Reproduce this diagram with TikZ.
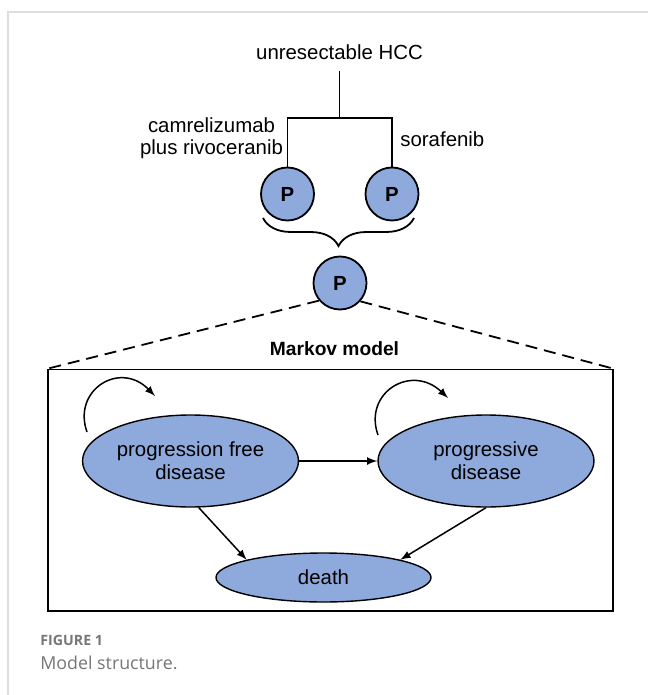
\documentclass[tikz,border=0pt]{standalone}
\usepackage{fontspec}
\setmainfont{Liberation Sans}
\newfontfamily\captionfont{Open Sans}
\usetikzlibrary{arrows,positioning,shapes,calc,decorations.pathreplacing}
\definecolor{stateblue}{RGB}{142,169,219}
\definecolor{framegray}{RGB}{222,222,222}
\definecolor{capgray}{RGB}{118,118,118}

\begin{document}
\begin{tikzpicture}[x=0.5pt,y=-0.5pt,
    font=\fontsize{10.2}{11.5}\selectfont,
    pcircle/.style={draw,circle,fill=stateblue,line width=0.9pt,minimum size=26.5pt,inner sep=0pt,font=\fontsize{10.2}{11.5}\selectfont\bfseries},
    state/.style={draw,ellipse,fill=stateblue,line width=0.7pt,align=center,inner sep=0pt},
    treeline/.style={line width=0.9pt},
    dashline/.style={line width=0.9pt,dash pattern=on 6pt off 3.5pt},
    trans/.style={-latex,line width=0.75pt}]
    \useasboundingbox (0,0) rectangle (648,695);
    \draw[framegray,line width=0.75pt] (8,695) -- (8,12) -- (648,12);

    \node[anchor=base] (hcc) at (339.5,60) {unresectable HCC};
    \coordinate (j) at (339.5,118);
    \node[pcircle] (pl) at (287.5,194) {P};
    \node[pcircle] (pr) at (392,194) {P};
    \node[align=center,anchor=base,inner sep=0pt,font=\fontsize{10.2}{11}\selectfont] (camr) at (211.5,155) {camrelizumab\\plus rivoceranib};
    \node[anchor=base west,inner sep=0pt] (sora) at (400,147) {sorafenib};
    \draw[treeline,shorten <=2pt] (hcc.south) -- (j);
    \draw[treeline] (pl.north) |- (j) -| (pr.north);
    \draw[treeline,decorate,decoration={brace,amplitude=14pt}] (414,218) -- (263,218);
    \node[pcircle] (pm) at (340,283) {P};

    \node[draw,line width=0.75pt,minimum width=282.5pt,minimum height=120.75pt,inner sep=0pt] (box) at (330.5,490.25) {};
    \node[anchor=base,font=\fontsize{9.6}{11}\selectfont\bfseries] (title) at (334.5,355) {Markov model};
    \draw[dashline] (pm.220) -- (box.north west);
    \draw[dashline] (pm.-42) -- (box.north east);

    \node[state,minimum width=108pt,minimum height=46pt] (pfd) at (190.5,461) {progression free\\disease};
    \node[state,minimum width=108pt,minimum height=46pt] (pd) at (486,461) {progressive\\disease};
    \node[state,minimum width=107.5pt,minimum height=24.5pt] (death) at (323.5,577.5) {death};
    \draw[trans] (pfd.east) -- (pd.west);
    \draw[trans] (pfd.-80) -- (death.167);
    \draw[trans] (pd.south) -- (death.13);
    \draw[trans] ($(pfd)+(-103.5,-29)$) .. controls ($(pfd)+(-118.5,-71)$) and ($(pfd)+(-70.5,-101)$) .. ($(pfd)+(-35.5,-65)$);
    \draw[trans] ($(pd)+(-108,-26)$) .. controls ($(pd)+(-123,-68)$) and ($(pd)+(-75,-98)$) .. ($(pd)+(-38,-63)$);

    \node[anchor=base west,inner sep=0pt,text=capgray,font=\captionfont\fontsize{7.1}{8}\selectfont\bfseries] (fig) at (40,645) {FIGURE 1};
    \node[anchor=base west,inner sep=0pt,text=capgray,font=\captionfont\fontsize{8.9}{10}\selectfont] (cap) at (40,669) {Model structure.};
\end{tikzpicture}
\end{document}
